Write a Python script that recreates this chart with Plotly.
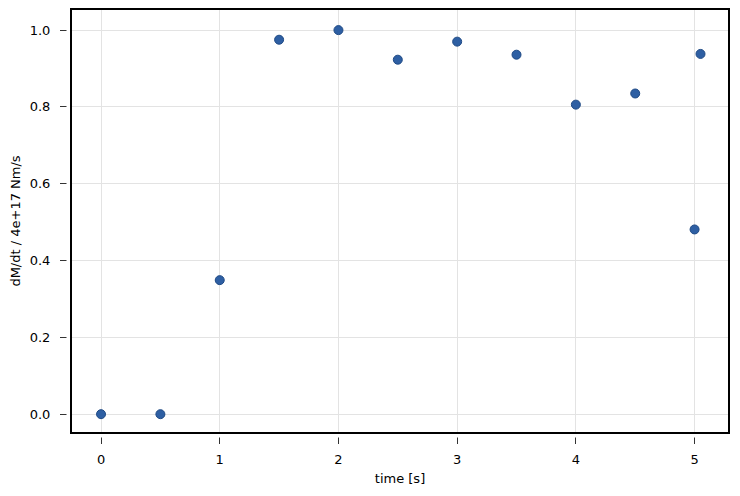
import plotly.graph_objects as go

# time [s] and normalised torque rate
time_s = [0, 0.5, 1.0, 1.5, 2.0, 2.5, 3.0, 3.5, 4.0, 4.5, 5.0, 5.05]
dmdt = [0.0, 0.0, 0.349, 0.975, 1.0, 0.923, 0.970, 0.936, 0.806, 0.835, 0.481, 0.938]

x_ticks = [0, 1, 2, 3, 4, 5]
y_ticks = [0.0, 0.2, 0.4, 0.6, 0.8, 1.0]
y_ticklabels = ["0.0", "0.2", "0.4", "0.6", "0.8", "1.0"]

# plot area size in px (page has an 8px body margin)
PW, PH = 658, 424

fig = go.Figure()
fig.add_trace(go.Scatter(
    x=time_s, y=dmdt, mode="markers",
    marker=dict(size=9, color="#2e5fa3", line=dict(color="#1f4a85", width=1)),
    showlegend=False,
))

axis_common = dict(
    showline=False, mirror=False,
    showgrid=True, gridcolor="#e3e3e3", gridwidth=1,
    ticks="outside", ticklen=10, tickwidth=1, tickcolor="#333333",
    zeroline=False, tickfont=dict(size=13, color="black"),
)

fig.update_xaxes(range=[-0.253, 5.29], tickvals=x_ticks, ticklabelstandoff=4,
                 title=dict(text="time [s]", font=dict(size=13, color="black"), standoff=8),
                 **axis_common)
fig.update_yaxes(range=[-0.049, 1.055], tickvals=y_ticks, ticktext=y_ticklabels,
                 ticklabelstandoff=7,
                 title=dict(text="dM/dt / 4e+17 Nm/s", font=dict(size=13, color="black"), standoff=8),
                 **axis_common)

# matplotlib-like gap between the frame and the ticks
gap = 4.5
fig.add_shape(type="rect", xref="paper", yref="paper", layer="above",
              x0=-0.02, x1=1.02, y0=-gap / PH, y1=0,
              fillcolor="white", line=dict(width=0))
fig.add_shape(type="rect", xref="paper", yref="paper", layer="above",
              x0=-gap / PW, x1=0, y0=-0.02, y1=1.02,
              fillcolor="white", line=dict(width=0))
# frame
fig.add_shape(type="rect", xref="paper", yref="paper", layer="above",
              x0=0, x1=1, y0=0, y1=1,
              line=dict(color="black", width=2))

fig.update_layout(
    width=732, height=488,
    margin=dict(l=63, r=11, t=1, b=63),
    plot_bgcolor="white", paper_bgcolor="white",
    font=dict(family="DejaVu Sans", color="black"),
)

fig.write_html("out.html")
